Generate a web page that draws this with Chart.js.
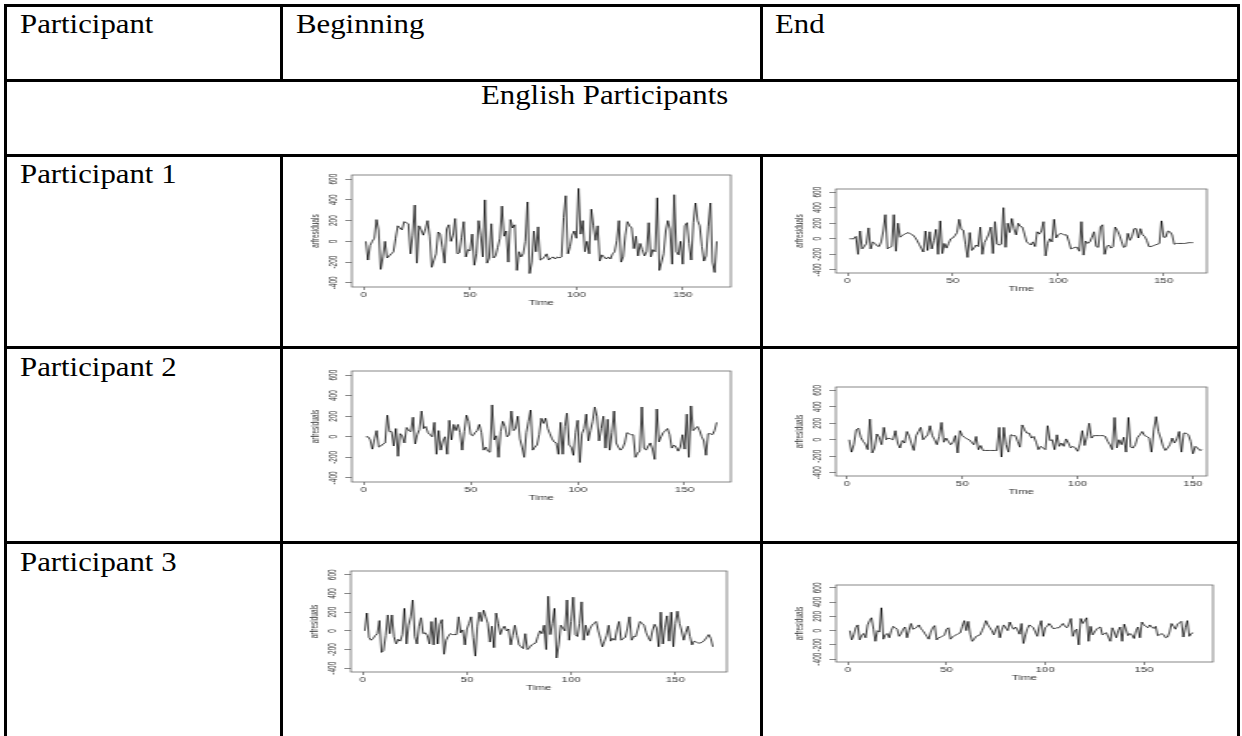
<!DOCTYPE html>
<html>
<head>
<meta charset="utf-8">
<script src="https://cdn.jsdelivr.net/npm/chart.js@4.4.0/dist/chart.umd.min.js"></script>
<style>
  html, body { margin: 0; padding: 0; background: #fff; }
  body { width: 1242px; height: 736px; position: relative; overflow: hidden;
         font-family: "Liberation Serif", "Times New Roman", serif; }
  .ln { position: absolute; background: #000; }
  .txt { position: absolute; font-size: 28px; line-height: 1; color: #000; white-space: nowrap;
         transform-origin: left top; transform: scaleX(1.1); }
  .plot { position: absolute; transform-origin: left top; }
  canvas { display: block; }
</style>
</head>
<body>

<div class="txt" style="left:20px;top:9.5px">Participant</div>
<div class="txt" style="left:296px;top:9.5px">Beginning</div>
<div class="txt" style="left:775px;top:9.5px">End</div>
<div class="txt" style="left:481px;top:80.5px">English Participants</div>
<div class="txt" style="left:20px;top:159.5px">Participant 1</div>
<div class="txt" style="left:20px;top:353px">Participant 2</div>
<div class="txt" style="left:20px;top:548px">Participant 3</div>

<script>
// residual series, one value per time step
const beginningP1 = [0,-180,-40,0,30,210,110,-270,-150,0,
  -160,-140,-120,-100,30,150,130,110,190,180,
  170,-120,60,350,-210,150,110,60,120,200,
  50,-250,-180,-120,90,70,-60,-210,120,160,
  0,60,220,-120,-110,40,190,-150,-80,-90,
  70,-230,-120,200,60,-150,400,-210,-160,170,
  -160,-140,-60,30,340,50,100,-200,210,130,
  160,-280,-100,-150,-120,0,380,-310,-200,100,
  -100,140,-180,-170,-150,-120,-180,-160,-150,-170,
  -150,-160,-150,230,440,-120,-50,60,100,30,
  510,70,200,-100,0,-120,310,150,10,150,
  -190,-130,-150,-170,-150,-170,-120,-100,10,200,
  -200,-150,60,190,150,130,-70,50,-140,-20,
  -80,-140,-100,180,-150,-80,-100,420,-280,-200,
  -120,100,200,120,-220,450,-100,-130,0,-220,
  150,180,-20,-180,180,370,200,150,-50,-190,
  -140,140,370,-200,-300,0];

const endP1 = [0,0,0,30,-200,100,-130,-100,-60,140,
  -130,-40,-60,-90,-100,-40,100,310,-130,-110,
  -100,310,-160,200,20,40,60,70,80,60,
  50,20,-20,-70,-120,-170,100,-150,90,-130,
  -20,120,-200,230,-190,-60,-120,-60,0,10,
  40,80,250,120,110,-70,-240,80,-150,-120,
  -80,-100,150,-200,-50,0,60,150,-190,220,
  -70,-80,-70,400,-110,200,80,260,130,50,
  200,160,150,60,-40,-60,-80,-40,-100,90,
  60,100,220,-220,-60,0,-40,250,10,50,
  70,60,50,50,-30,-130,-120,-110,-110,-160,
  220,-210,-30,-60,-40,20,90,-100,-110,150,
  180,-200,-100,-80,-120,-100,150,110,50,-30,
  -110,-100,70,-20,30,130,130,10,130,50,
  30,-20,-100,-100,-90,-80,-70,-60,230,20,
  20,100,90,50,-70,-60,-60,-60,-60,-60,
  -55,-50,-50,-50];

const beginningP2 = [0,0,-30,-120,-20,60,-100,-90,-70,-60,
  210,50,50,-90,80,-190,30,10,-60,90,
  60,50,190,-70,20,70,250,80,100,40,
  20,0,140,-170,60,-130,-40,0,-170,160,
  -30,120,60,120,40,-130,50,210,150,20,
  10,40,60,120,40,-130,-100,-140,-150,310,
  -30,10,-200,50,150,100,0,20,250,60,
  80,200,-20,-100,-200,40,150,260,-130,-100,
  -80,20,180,130,180,80,30,-20,-50,-60,
  -170,140,-170,100,230,-80,-100,-180,40,160,
  -250,30,80,220,-40,60,150,290,200,-40,
  80,200,-110,170,-130,40,250,-60,-100,-130,
  -110,-60,40,30,20,20,-200,-160,-140,290,
  -110,-130,-90,-60,-120,-220,270,-50,0,40,
  60,80,20,-110,-80,-100,-140,-100,20,-120,
  220,-200,300,60,80,100,60,0,-40,-180,
  30,30,20,60,140];

const endP2 = [0,-150,-60,120,140,30,-20,-50,-120,250,
  -160,-100,70,30,-60,150,0,20,10,0,
  110,-40,-100,-10,-40,100,40,-50,-130,50,
  100,150,0,30,60,170,50,0,-60,40,
  210,-30,20,-20,-60,-30,50,-160,110,50,
  30,10,0,-30,-60,40,-120,-70,-130,-130,
  -130,-130,-130,-130,-130,150,-210,150,-60,-150,
  60,50,50,-20,-90,180,120,80,80,20,
  40,-30,-120,-80,-100,-120,170,-10,0,-120,
  60,-80,-40,-80,10,-40,-100,-80,-100,-140,
  -50,110,-70,40,200,20,50,50,50,50,
  50,40,-20,-60,-120,270,-100,0,-60,30,
  -150,270,-90,-100,-60,30,60,100,50,40,
  20,-150,120,280,100,20,-80,-130,-100,-60,
  20,-40,10,100,-150,80,80,60,-20,-170,
  -80,-100,-130,-120];

const beginningP3 = [0,190,-70,-100,-80,-50,-30,110,-230,-210,
  -50,170,-30,170,-60,-140,-90,-110,-40,240,
  -140,60,150,330,-60,-140,50,140,-30,-20,
  -50,-140,100,-150,140,-140,70,120,-250,-100,
  -60,-30,-40,-40,-40,150,-20,10,-150,20,
  80,150,-70,-270,50,200,100,220,150,80,
  -120,50,-180,190,80,-40,20,50,0,20,
  -150,-50,60,-50,-150,-170,-190,-30,-200,-180,
  -150,-140,-130,-60,0,-30,60,-200,370,-40,
  80,240,-290,-150,60,30,0,330,-100,100,
  360,-40,-60,80,310,-100,60,-50,20,60,
  80,100,0,-80,-170,-110,-50,60,-110,-80,
  -100,20,100,-100,-80,-70,30,150,-100,-60,
  -60,20,100,80,60,-20,-70,-110,0,70,
  30,-170,200,-140,40,160,-110,200,-170,80,
  210,80,0,-100,-20,50,-60,-150,-110,-120,
  -130,-130,-120,-100,-70,-40,-80,-170];

const endP3 = [0,-130,-60,40,80,-130,-70,-40,-100,80,
  140,180,20,-150,0,-20,320,-120,-60,-40,
  -100,0,60,40,20,-80,-40,20,50,-100,
  0,100,20,30,50,80,30,0,-40,-80,
  -120,-20,40,70,-130,-100,-90,-80,-60,20,
  40,-120,-90,-70,-60,-40,-30,60,140,0,
  130,-50,-150,-120,-80,-70,-60,0,60,140,
  80,40,0,-60,20,70,-100,10,80,40,
  0,120,60,20,50,10,-50,100,-180,-60,
  30,80,60,40,-20,-80,60,140,-80,40,
  60,100,70,30,30,40,40,70,100,60,
  40,90,170,-80,0,20,-200,170,100,140,
  180,-150,60,-60,-20,20,40,50,-60,-40,
  -30,-90,-150,40,-20,-100,0,50,-150,90,
  10,-70,-40,-60,-110,0,50,-100,120,80,
  60,40,80,50,30,60,-70,-60,-40,-60,
  -100,-90,-20,100,60,20,90,110,130,-90,
  40,140,-80,-40,-30];

const xTickValues = [0, 50, 100, 150];
const yTickValues = [-400, -200, 0, 200, 400, 600];
const xAxisTitle = 'Time';
const yAxisTitle = 'arfresiduals';

// table rules: [left, top, width, height]
const rules = [
  [4, 4, 1236, 2.5], [4, 79, 1236, 2.5], [4, 154, 1236, 2.5],
  [4, 346, 1236, 2.5], [4, 541, 1236, 2.5],
  [4, 4, 2.5, 732], [1237, 4, 2.5, 732],
  [280, 4, 2.5, 77], [280, 154, 2.5, 582],
  [760, 4, 2.5, 77], [760, 154, 2.5, 582]
];
rules.forEach(r => {
  const d = document.createElement('div');
  d.className = 'ln';
  d.style.left = r[0] + 'px'; d.style.top = r[1] + 'px';
  d.style.width = r[2] + 'px'; d.style.height = r[3] + 'px';
  document.body.appendChild(d);
});

// plot box in page pixels [left, top, right, bottom] and time range of the axis
const panels = [
  {values: beginningP1, box: [352, 175, 731, 287], xRange: [-5.6, 172.6]},
  {values: endP1,       box: [836, 189, 1207, 273], xRange: [-5.5, 170.5]},
  {values: beginningP2, box: [352, 371, 731, 482], xRange: [-5.6, 171.6]},
  {values: endP2,       box: [836, 387, 1207, 476], xRange: [-4.8, 156]},
  {values: beginningP3, box: [351, 571, 727, 672], xRange: [-5.7, 174.7]},
  {values: endP3,       box: [836, 585, 1213, 662], xRange: [-6, 185]}
];

const Y_W = 29, X_H = 20, PAD_T = 6, PAD_R = 6, STRETCH = 1.65;
const tickFont = {family: "'Liberation Sans', Arial, sans-serif", size: 7};
const yTickFont = {family: "'Liberation Sans', Arial, sans-serif", size: 6.5};

const boxPlugin = {
  id: 'plotBox',
  afterDraw(chart) {
    const {ctx, chartArea: a} = chart;
    ctx.save();
    ctx.strokeStyle = '#555';
    ctx.lineWidth = 0.7;
    ctx.strokeRect(a.left, a.top, a.right - a.left, a.bottom - a.top);
    ctx.restore();
  }
};

function makePanel(p) {
  const [l, t, r, b] = p.box;
  const innerW = Math.round((r - l) / STRETCH);
  const sx = (r - l) / innerW;
  const w = Y_W + innerW + PAD_R;
  const h = PAD_T + (b - t) + X_H;

  const wrap = document.createElement('div');
  wrap.className = 'plot';
  wrap.style.left = (l - Y_W * sx) + 'px';
  wrap.style.top = (t - PAD_T) + 'px';
  wrap.style.width = w + 'px';
  wrap.style.height = h + 'px';
  wrap.style.transform = 'scaleX(' + sx + ')';
  const canvas = document.createElement('canvas');
  canvas.width = w;
  canvas.height = h;
  wrap.appendChild(canvas);
  document.body.appendChild(wrap);

  new Chart(canvas.getContext('2d'), {
    type: 'line',
    data: {
      datasets: [{
        data: p.values.map((v, i) => ({x: i + 1, y: v})),
        borderColor: '#000',
        borderWidth: 0.75,
        pointRadius: 0,
        tension: 0,
        fill: false
      }]
    },
    options: {
      responsive: false,
      animation: false,
      devicePixelRatio: 1,
      layout: {padding: {top: PAD_T, right: PAD_R, left: 0, bottom: 0}},
      plugins: {legend: {display: false}, tooltip: {enabled: false}},
      scales: {
        x: {
          type: 'linear',
          min: p.xRange[0],
          max: p.xRange[1],
          afterBuildTicks: s => { s.ticks = xTickValues.map(v => ({value: v})); },
          afterFit: s => { s.height = X_H; },
          grid: {drawOnChartArea: false, drawTicks: true, tickLength: 3, color: '#555', lineWidth: 0.7},
          border: {display: false},
          ticks: {font: tickFont, color: '#333', padding: 1, minRotation: 0, maxRotation: 0, autoSkip: false},
          title: {display: true, text: xAxisTitle, font: tickFont, color: '#333', padding: 0}
        },
        y: {
          type: 'linear',
          min: -440,
          max: 640,
          afterBuildTicks: s => { s.ticks = yTickValues.map(v => ({value: v})); },
          afterFit: s => { s.width = Y_W; },
          grid: {drawOnChartArea: false, drawTicks: true, tickLength: 4, color: '#555', lineWidth: 0.7},
          border: {display: false},
          ticks: {font: yTickFont, color: '#333', padding: 0, minRotation: 90, maxRotation: 90,
                  crossAlign: 'center', autoSkip: false},
          title: {display: true, text: yAxisTitle, font: yTickFont, color: '#333', padding: {top: 3, bottom: 0}}
        }
      }
    },
    plugins: [boxPlugin]
  });
}

panels.forEach(makePanel);
</script>
</body>
</html>
